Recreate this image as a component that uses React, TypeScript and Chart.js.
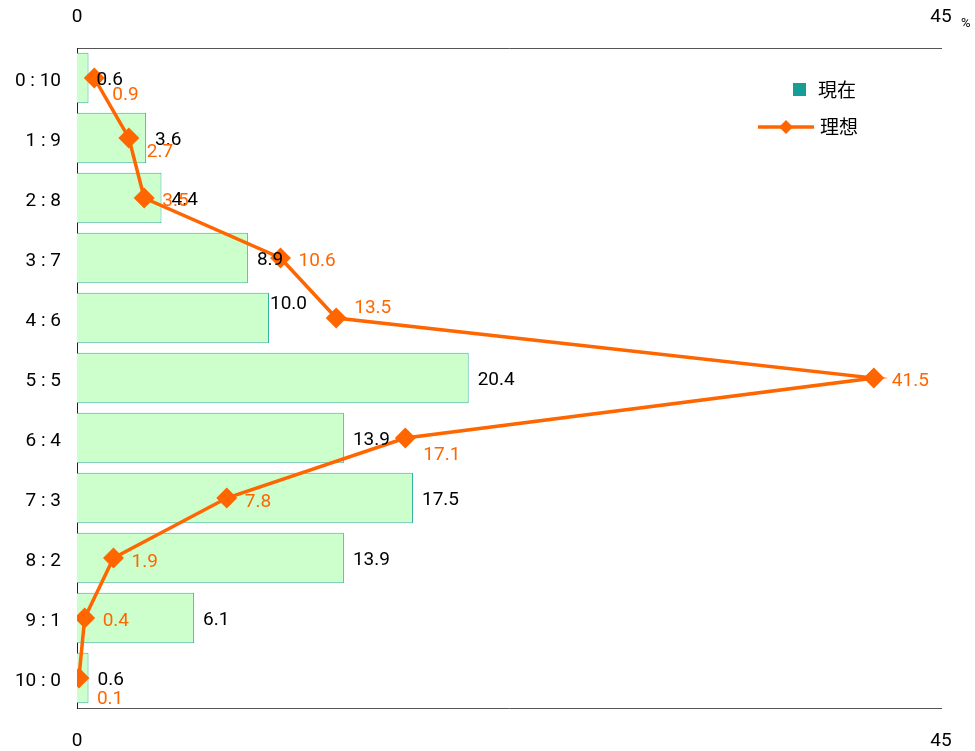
import React, { useEffect, useRef } from "react";
import { Chart, registerables } from "chart.js";

Chart.register(...registerables);

const categories = ["0 : 10", "1 : 9", "2 : 8", "3 : 7", "4 : 6", "5 : 5", "6 : 4", "7 : 3", "8 : 2", "9 : 1", "10 : 0"];
const currentValues = [0.6, 3.6, 4.4, 8.9, 10.0, 20.4, 13.9, 17.5, 13.9, 6.1, 0.6];
const idealValues = [0.9, 2.7, 3.5, 10.6, 13.5, 41.5, 17.1, 7.8, 1.9, 0.4, 0.1];
const seriesNames = ["現在", "理想"];
const axisMin = 0;
const axisMax = 45;

// label placement offsets (styling only)
const idealLabelDy = [17, 14, 3, 3, -10, 3, 17, 4, 4, 3, 21];
const currentLabelDx = [8, 9, 10, 9, 1, 9, 9, 9, 9, 9, 9];
const currentLabelDy = [2, 2, 2, 2, -14, 2, 2, 2, 2, 2, 2];

const FONT = "Roboto, 'Noto Sans', sans-serif";
const CJK = "'Noto Sans CJK JP', sans-serif";
const ORANGE = "#FF6600";
const TEAL = "#159E96";

const labelPlugin = {
  id: "labels",
  afterDatasetsDraw(chart: any) {
    const ctx = chart.ctx;
    ctx.save();
    ctx.font = `19px ${FONT}`;
    ctx.textBaseline = "middle";
    ctx.textAlign = "left";
    const barMeta = chart.getDatasetMeta(0);
    barMeta.data.forEach((el: any, i: number) => {
      ctx.fillStyle = "#000";
      ctx.fillText(currentValues[i].toFixed(1), el.x + currentLabelDx[i], el.y + currentLabelDy[i]);
    });
    const lineMeta = chart.getDatasetMeta(1);
    lineMeta.data.forEach((el: any, i: number) => {
      ctx.fillStyle = ORANGE;
      ctx.fillText(idealValues[i].toFixed(1), el.x + 18, el.y + idealLabelDy[i]);
    });
    // percent sign
    ctx.fillStyle = "#000";
    ctx.font = `13px ${FONT}`;
    ctx.fillText("%", 961, 24);
    // legend
    ctx.fillStyle = TEAL;
    ctx.fillRect(793, 83, 13, 13);
    ctx.fillStyle = "#000";
    ctx.font = `19px ${CJK}`;
    ctx.fillText(seriesNames[0], 818, 90);
    ctx.strokeStyle = ORANGE;
    ctx.lineWidth = 3.5;
    ctx.beginPath();
    ctx.moveTo(758, 127);
    ctx.lineTo(814, 127);
    ctx.stroke();
    ctx.fillStyle = ORANGE;
    ctx.beginPath();
    ctx.moveTo(786, 120);
    ctx.lineTo(793, 127);
    ctx.lineTo(786, 134);
    ctx.lineTo(779, 127);
    ctx.closePath();
    ctx.fill();
    ctx.fillStyle = "#000";
    ctx.fillText(seriesNames[1], 820, 127);
    ctx.restore();
  },
};

export default function App() {
  const ref = useRef<HTMLCanvasElement>(null);
  useEffect(() => {
    if (!ref.current) return;
    const chart = new Chart(ref.current, {
      type: "bar",
      data: {
        labels: categories,
        datasets: [
          {
            type: "bar",
            label: seriesNames[0],
            data: currentValues,
            backgroundColor: "#CCFFCC",
            borderColor: "#3AB0A0",
            borderWidth: 1,
            barPercentage: 0.84,
            categoryPercentage: 1,
            xAxisID: "x",
            yAxisID: "y",
            order: 2,
          },
          {
            type: "line",
            label: seriesNames[1],
            data: idealValues,
            borderColor: ORANGE,
            backgroundColor: ORANGE,
            borderWidth: 3.5,
            pointStyle: "rectRot",
            pointRadius: 8,
            pointBackgroundColor: ORANGE,
            pointBorderColor: ORANGE,
            tension: 0,
            xAxisID: "x",
            yAxisID: "y",
            order: 1,
          } as any,
        ],
      },
      options: {
        indexAxis: "y",
        animation: false,
        responsive: false,
        maintainAspectRatio: false,
        devicePixelRatio: 1,
        layout: { padding: { left: 0, right: 34, top: 0, bottom: 0 } },
        plugins: { legend: { display: false }, tooltip: { enabled: false } },
        scales: {
          x: {
            position: "top",
            min: axisMin,
            max: axisMax,
            ticks: {
              stepSize: 45,
              padding: 19,
              color: "#000",
              font: { family: FONT, size: 19 },
              maxRotation: 0,
            },
            grid: { display: false, drawTicks: false },
            border: { display: true, color: "#555", width: 1 },
            afterFit: (s: any) => { s.height = 48; },
          },
          x2: {
            position: "bottom",
            axis: "x",
            min: axisMin,
            max: axisMax,
            ticks: {
              stepSize: 45,
              padding: 22,
              color: "#000",
              font: { family: FONT, size: 19 },
              maxRotation: 0,
            },
            grid: { display: false, drawTicks: false },
            border: { display: true, color: "#555", width: 1 },
            afterFit: (s: any) => { s.height = 43; },
          },
          y: {
            type: "category",
            position: "left",
            offset: true,
            ticks: {
              padding: 16,
              labelOffset: 3,
              color: "#000",
              font: { family: FONT, size: 19 },
            },
            grid: { display: false, drawTicks: false },
            border: { display: true, color: "#222", width: 1 },
            afterFit: (s: any) => { s.width = 77; },
          },
        },
      } as any,
      plugins: [labelPlugin],
    });
    return () => chart.destroy();
  }, []);
  return (
    <div style={{ position: "absolute", left: 0, top: 0, width: 975, height: 751, background: "#fff" }}>
      <canvas ref={ref} width={975} height={751} style={{ width: 975, height: 751 }} />
    </div>
  );
}
